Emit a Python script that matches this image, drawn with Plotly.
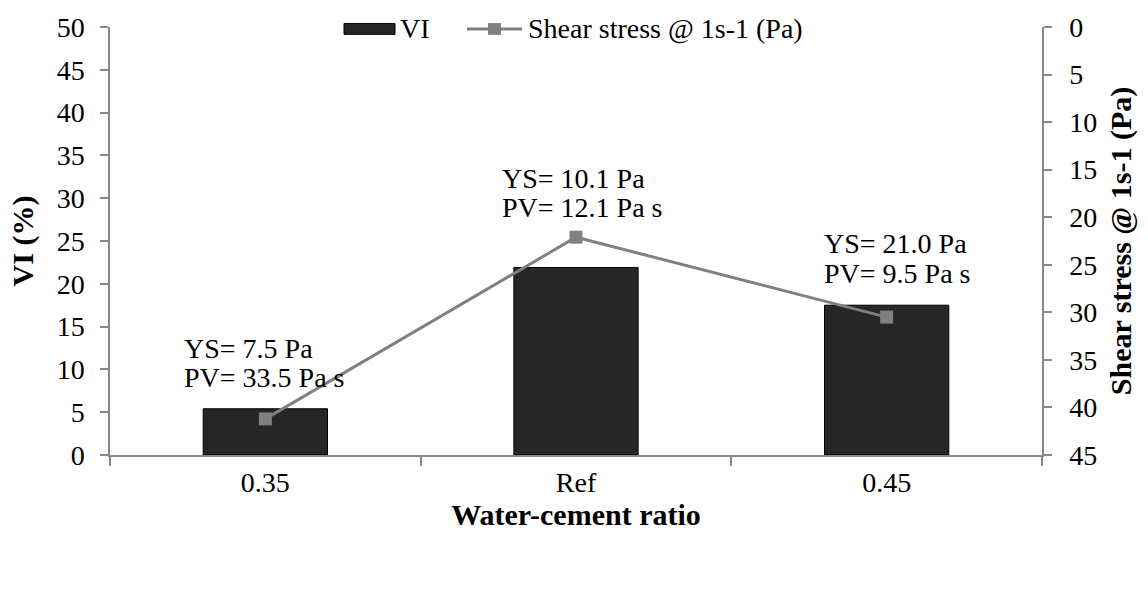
import plotly.graph_objects as go

# ---- data -------------------------------------------------------------
categories = ["0.35", "Ref", "0.45"]
vi_percent = [5.4, 21.9, 17.5]          # left axis, bars
shear_stress_pa = [41.2, 22.1, 30.5]    # right (reversed) axis, line
ys_labels = ["YS= 7.5 Pa", "YS= 10.1 Pa", "YS= 21.0 Pa"]
pv_labels = ["PV= 33.5 Pa s", "PV= 12.1 Pa s", "PV= 9.5 Pa s"]
left_ticks = list(range(0, 51, 5))
right_ticks = list(range(0, 46, 5))

# ---- page geometry (pixels) -------------------------------------------
W, H = 1148, 594
L, R, T, B = 110, 106, 19, 139
PW = W - L - R
PH = H - T - B


def px(x):
    return (x - L) / PW


def py(y):
    return (H - B - y) / PH


FONT = "Liberation Serif, Times New Roman, serif"
AX = "#898989"
BAR = "#262626"
LINE = "#808080"
TICK_SIZE = 28
TITLE_SIZE = 30

fig = go.Figure()
fig.add_trace(go.Bar(
    x=categories, y=vi_percent, name="VI", width=0.4,
    marker=dict(color=BAR, line=dict(color="#000000", width=1)),
))
fig.add_trace(go.Scatter(
    x=categories, y=shear_stress_pa, name="Shear stress @ 1s-1 (Pa)",
    yaxis="y2", mode="lines+markers",
    line=dict(color=LINE, width=3),
    marker=dict(symbol="square", size=13, color=LINE),
))

axis_common = dict(
    showline=True, linecolor=AX, linewidth=1.5,
    ticks="outside", tickcolor=AX, tickwidth=1.5, ticklen=8,
    showgrid=False, zeroline=False,
    tickfont=dict(family=FONT, size=TICK_SIZE, color="#000000"),
)

fig.update_layout(
    width=W, height=H,
    margin=dict(l=L, r=R, t=T, b=B, pad=0),
    paper_bgcolor="white", plot_bgcolor="white",
    showlegend=False,
    xaxis=dict(
        type="category", range=[-0.5, 2.5], tickson="boundaries",
        ticklabelstandoff=2,
        title=dict(text="Water-cement ratio", standoff=0,
                   font=dict(family=FONT, size=TITLE_SIZE, weight="bold", color="#000000")),
        **{**axis_common, "ticklen": 9},
    ),
    yaxis=dict(
        range=[0, 50], tickvals=left_ticks, ticklabelstandoff=10,
        title=dict(text="VI (%)", standoff=14,
                   font=dict(family=FONT, size=TITLE_SIZE, weight="bold", color="#000000")),
        **axis_common,
    ),
    yaxis2=dict(
        range=[45, 0], tickvals=right_ticks, overlaying="y", side="right",
        ticklabelstandoff=12,
        title=dict(text="Shear stress @ 1s-1 (Pa)", standoff=14,
                   font=dict(family=FONT, size=TITLE_SIZE, weight="bold", color="#000000")),
        **axis_common,
    ),
)

# ---- YS / PV notes above each point -----------------------------------
note_left = [182, 500, 822]
note_ys_y = [346, 173, 240]
note_pv_y = [376, 203, 270]
for i in range(len(categories)):
    for text, yy in ((ys_labels[i], note_ys_y[i]), (pv_labels[i], note_pv_y[i])):
        fig.add_annotation(
            x=px(note_left[i]), y=py(yy), xref="paper", yref="paper",
            text=text, showarrow=False, xanchor="left", yanchor="middle",
            font=dict(family=FONT, size=TICK_SIZE, color="#000000"),
        )

# ---- legend drawn along the top edge -----------------------------------
ly = 21
fig.add_shape(type="rect", xref="paper", yref="paper",
              x0=px(344), x1=px(395), y0=py(ly + 5.5), y1=py(ly - 5.5),
              fillcolor=BAR, line=dict(color="#000000", width=1))
fig.add_annotation(x=px(398), y=py(ly), xref="paper", yref="paper",
                   text="VI", showarrow=False, xanchor="left", yanchor="middle",
                   font=dict(family=FONT, size=TICK_SIZE, color="#000000"))
fig.add_shape(type="line", xref="paper", yref="paper",
              x0=px(467), x1=px(522), y0=py(ly), y1=py(ly),
              line=dict(color=LINE, width=3))
fig.add_shape(type="rect", xref="paper", yref="paper",
              x0=px(488), x1=px(501), y0=py(ly + 6), y1=py(ly - 6),
              fillcolor=LINE, line=dict(width=0))
fig.add_annotation(x=px(526), y=py(ly), xref="paper", yref="paper",
                   text="Shear stress @ 1s-1 (Pa)", showarrow=False,
                   xanchor="left", yanchor="middle",
                   font=dict(family=FONT, size=TICK_SIZE, color="#000000"))

fig.write_html("out.html")
